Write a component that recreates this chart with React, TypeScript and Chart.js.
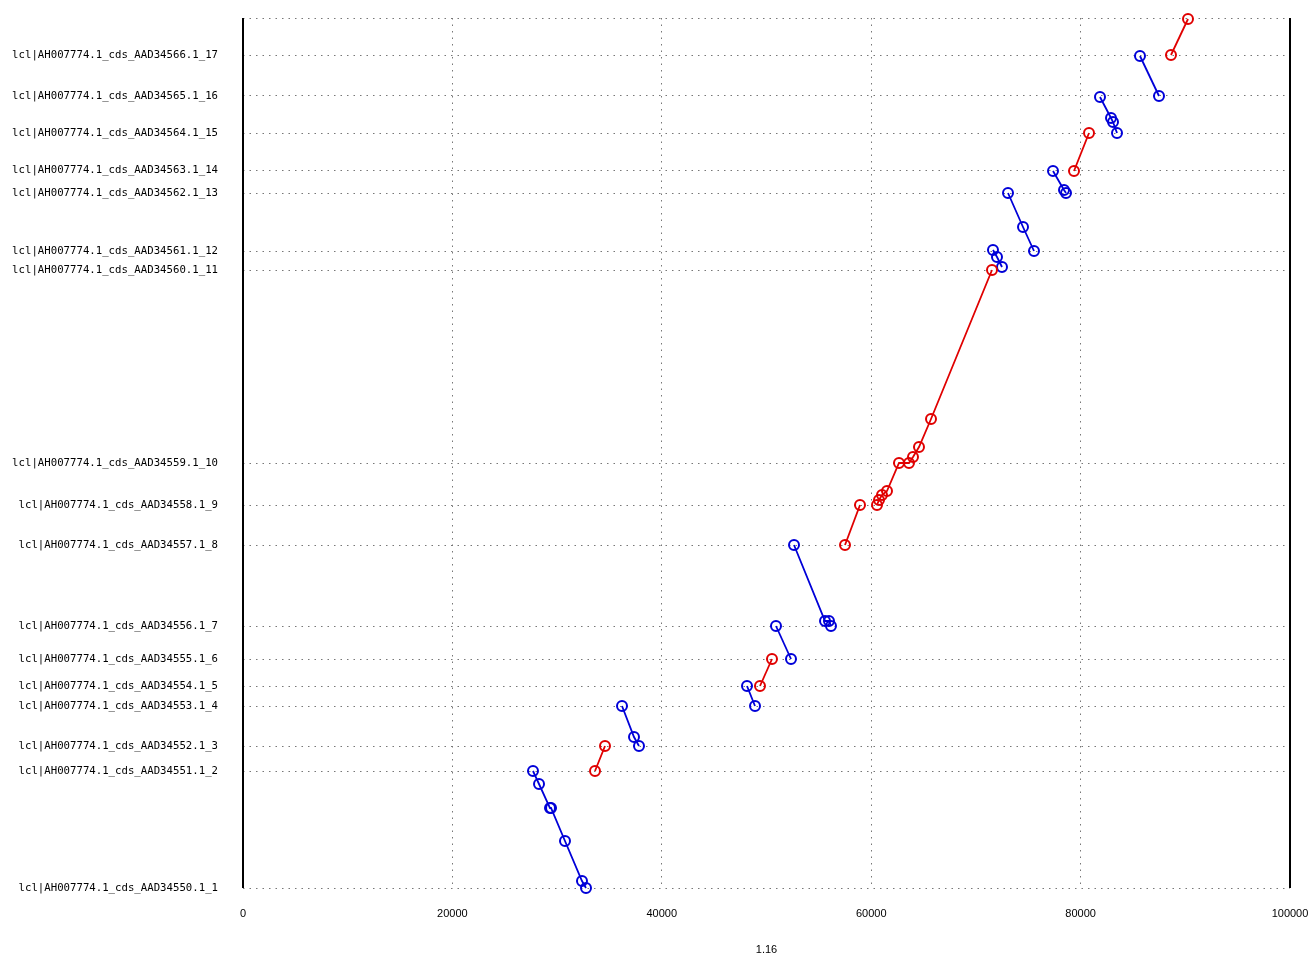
import React, { useEffect, useRef } from "react";
import { Chart, registerables } from "chart.js";

Chart.register(...registerables);

// Y tick positions (concatenated query coordinate) and their labels
const yTickValues = [0, 11700, 14200, 18200, 20200, 22900, 26200, 34300, 38300, 42500, 61800, 63700, 69500, 71800, 75500, 79200, 83300, 87000];
const yTickLabels = [
  "lcl|AH007774.1_cds_AAD34550.1_1",
  "lcl|AH007774.1_cds_AAD34551.1_2",
  "lcl|AH007774.1_cds_AAD34552.1_3",
  "lcl|AH007774.1_cds_AAD34553.1_4",
  "lcl|AH007774.1_cds_AAD34554.1_5",
  "lcl|AH007774.1_cds_AAD34555.1_6",
  "lcl|AH007774.1_cds_AAD34556.1_7",
  "lcl|AH007774.1_cds_AAD34557.1_8",
  "lcl|AH007774.1_cds_AAD34558.1_9",
  "lcl|AH007774.1_cds_AAD34559.1_10",
  "lcl|AH007774.1_cds_AAD34560.1_11",
  "lcl|AH007774.1_cds_AAD34561.1_12",
  "lcl|AH007774.1_cds_AAD34562.1_13",
  "lcl|AH007774.1_cds_AAD34563.1_14",
  "lcl|AH007774.1_cds_AAD34564.1_15",
  "lcl|AH007774.1_cds_AAD34565.1_16",
  "lcl|AH007774.1_cds_AAD34566.1_17",
  "",
];
const xTickValues = [0, 20000, 40000, 60000, 80000, 100000];
const xAxisTitle = "1.16";

// Alignment segments: reference position (x), query position (y), strand
const segStrand = ["-", "+", "-", "-", "+", "-", "-", "+", "+", "-", "-", "-", "+", "-", "-", "+"];
const segX = [
  [27698, 28272, 29322, 29420, 30754, 32378, 32760],
  [33620, 34575],
  [36199, 37345, 37822],
  [48138, 48902],
  [49379, 50525],
  [50907, 52340],
  [52627, 55588, 55969, 56160],
  [57498, 58930],
  [60554, 60745, 61032, 61509, 62655, 63610, 63992, 64565, 65712, 71538],
  [71633, 72015, 72493],
  [73066, 74499, 75549],
  [77364, 78415, 78606],
  [79370, 80803],
  [81853, 82904, 83095, 83477],
  [85673, 87488],
  [88634, 90258],
];
const segY = [
  [11700, 10400, 8000, 8000, 4700, 700, 0],
  [11700, 14200],
  [18200, 15100, 14200],
  [20200, 18200],
  [20200, 22900],
  [26200, 22900],
  [34300, 26700, 26700, 26200],
  [34300, 38300],
  [38300, 38800, 39300, 39700, 42500, 42500, 43100, 44100, 46900, 61800],
  [63800, 63100, 62100],
  [69500, 66100, 63700],
  [71700, 69800, 69500],
  [71700, 75500],
  [79100, 77000, 76600, 75500],
  [83200, 79200],
  [83300, 86900],
];

const FWD = "#e00000";
const REV = "#0000d8";
const MONO = "'DejaVu Sans Mono', monospace";
const SANS = "'Liberation Sans', Arial, sans-serif";

const axisLines = {
  id: "axisLines",
  afterDraw(chart: any) {
    const { ctx, chartArea } = chart;
    ctx.save();
    ctx.strokeStyle = "#000";
    ctx.lineWidth = 2;
    ctx.beginPath();
    ctx.moveTo(chartArea.left, chartArea.top);
    ctx.lineTo(chartArea.left, chartArea.bottom);
    ctx.moveTo(chartArea.right, chartArea.top);
    ctx.lineTo(chartArea.right, chartArea.bottom);
    ctx.stroke();
    ctx.restore();
  },
};

export default function App() {
  const ref = useRef<HTMLCanvasElement>(null);
  useEffect(() => {
    if (!ref.current) return;
    const datasets = segX.map((xs, i) => {
      const c = segStrand[i] === "+" ? FWD : REV;
      return {
        data: xs.map((x, j) => ({ x, y: segY[i][j] })),
        borderColor: c,
        backgroundColor: "rgba(0,0,0,0)",
        pointBorderColor: c,
        pointBackgroundColor: "rgba(0,0,0,0)",
        pointRadius: 5,
        pointBorderWidth: 2,
        borderWidth: 1.8,
        showLine: true,
        tension: 0,
        clip: false,
      };
    });
    const chart = new Chart(ref.current, {
      type: "scatter",
      data: { datasets },
      plugins: [axisLines],
      options: {
        animation: false,
        responsive: false,
        maintainAspectRatio: false,
        layout: { padding: { top: 18, right: 18, left: 0, bottom: 0 } },
        plugins: { legend: { display: false }, tooltip: { enabled: false } },
        scales: {
          x: {
            type: "linear",
            min: 0,
            max: 100000,
            afterBuildTicks: (s: any) => {
              s.ticks = xTickValues.map((v) => ({ value: v }));
            },
            afterFit: (s: any) => {
              s.height = 69;
              s.paddingLeft = 0;
              s.paddingRight = 0;
            },
            ticks: {
              autoSkip: false,
              maxRotation: 0,
              padding: 19,
              color: "#000",
              font: { family: SANS, size: 11 },
              callback: (v: any) => String(v),
            },
            grid: { color: "#777", lineWidth: 1, drawTicks: false },
            border: { display: false, dash: [1.5, 5] },
            title: {
              display: true,
              text: xAxisTitle,
              color: "#000",
              font: { family: SANS, size: 11 },
              padding: { top: 0, bottom: 0 },
            },
          },
          y: {
            type: "linear",
            min: 0,
            max: 87000,
            afterBuildTicks: (s: any) => {
              s.ticks = yTickValues.map((v) => ({ value: v }));
            },
            afterFit: (s: any) => {
              s.width = 243;
              s.paddingTop = 0;
              s.paddingBottom = 0;
            },
            ticks: {
              autoSkip: false,
              padding: 25,
              color: "#000",
              font: { family: MONO, size: 10.7 },
              callback: (v: any) => {
                const i = yTickValues.indexOf(Number(v));
                return i >= 0 ? yTickLabels[i] : "";
              },
            },
            grid: { color: "#777", lineWidth: 1, drawTicks: false },
            border: { display: false, dash: [1.5, 5] },
          },
        },
      },
    } as any);
    return () => chart.destroy();
  }, []);
  return (
    <div style={{ position: "fixed", left: 0, top: 0, width: 1308, height: 957, background: "#fff" }}>
      <canvas ref={ref} width={1308} height={957} style={{ width: 1308, height: 957, display: "block" }} />
    </div>
  );
}
